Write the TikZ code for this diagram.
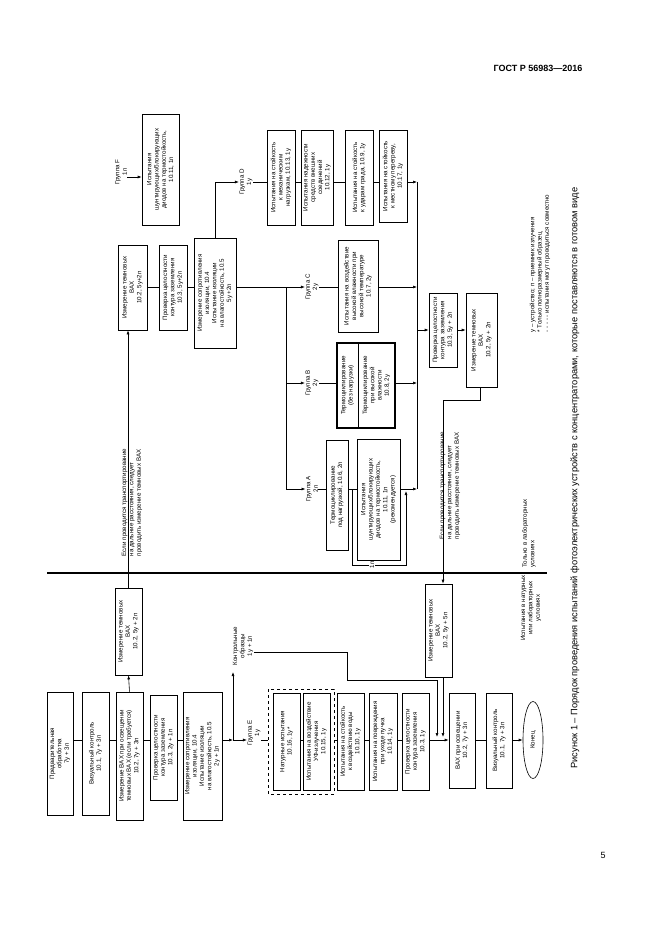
\documentclass[tikz,border=0pt]{standalone}
\usepackage{fontspec}
\setmainfont{Liberation Sans}
\usetikzlibrary{arrows.meta,shapes.geometric}
\begin{document}
\begin{tikzpicture}[x=1pt,y=-1pt,
  bx/.style={draw,rotate=90,align=center,inner sep=0.5pt,font=\fontsize{6.2}{7.3}\selectfont,line width=0.6pt},
  lb/.style={rotate=90,align=center,inner sep=0.5pt,font=\fontsize{6.2}{7.3}\selectfont},
  ln/.style={line width=0.6pt},
  ar/.style={line width=0.6pt,-{Latex[length=4pt,width=3pt]}}]
\useasboundingbox (0,0) rectangle (661,936);
\newcommand\bx[6]{\pgfmathsetmacro\bxw{#5-#3}\pgfmathsetmacro\bxh{#4-#2}\node[bx,minimum width=\bxw pt,minimum height=\bxh pt] (#1) at ({(#2+#4)/2},{(#3+#5)/2}) {#6};}
% header
\node[anchor=east,font=\bfseries\fontsize{9}{11}\selectfont] (hdr) at (586,68) {ГОСТ Р 56983—2016};
\node[font=\fontsize{9}{11}\selectfont] (pg) at (603,855) {5};
% divider
\draw[line width=1.3pt] (47,573) coordinate (dvA) -- (547,573) coordinate (dvB);
% column 1
\coordinate (y740) at (0,740);
\bx{p1}{47}{692}{73}{815}{Предварительная\\обработка\\7у + 3п}
\bx{p2}{82}{692}{109}{815}{Визуальный контроль\\10.1, 7у + 3п}
\bx{p3}{116}{692}{143}{820}{Измерение ВАХ при освещении\\темновых ВАХ (если требуется)\\10.2, 7у + 3п}
\bx{p4}{150}{695}{177}{800}{Проверка целостности\\контура заземления\\10.3, 2у + 1п}
\bx{p5}{183}{692}{222}{820}{Измерение сопротивления\\изоляции, 10.4\\Испытание изоляции\\на влагостойкость, 10.5\\2у + 1п}
\draw[ln] (p1.south|-y740) -- (p2.north|-y740);
\draw[ln] (p2.south|-y740) -- (p3.north|-y740);
\draw[ln] (p3.south|-y740) -- (p4.north|-y740);
\draw[ln] (p4.south|-y740) -- (p5.north|-y740);
\bx{dv1}{115}{588}{142}{675}{Измерение темновых\\ВАХ\\10.2, 5у + 2п}
\draw[ar] (p3.east) -- (dv1.west);
% lab column
\coordinate (y287) at (0,287);
\bx{l1}{118}{245}{147}{330}{Измерение темновых\\ВАХ\\10.2, 5у+2п}
\bx{l2}{159}{245}{187}{330}{Проверка целостности\\контура заземления\\10.3, 5у+2п}
\bx{l3}{194}{238}{236}{348}{Измерение сопротивления\\изоляции, 10.4\\Испытание изоляции\\на влагостойкость, 10.5\\5у +2п}
\draw[ar] (dv1.east -| 128,0) -- (l1.west -| 128,0);
\draw[ln] (l1.south|-y287) -- (l2.north|-y287);
\draw[ln] (l2.south|-y287) -- (l3.north|-y287);
\node[lb,anchor=west,align=left] (t1) at (132,557) {Если проводится транспортирование\\на дальние расстояния, следует\\проводить измерение темновых ВАХ};
% group F
\node[lb] (gF) at (121,172) {Группа F\\1п};
\bx{fb}{142}{114}{179}{225}{Испытания\\шунтирующих/блокирующих\\диодов на термостойкость,\\10.11, 1п}
\draw[ar] (gF.south|-0,177) -- (fb.north|-0,177);
% group D
\coordinate (y182) at (0,182);
\node[lb] (gD) at (246,182) {Группа D\\1у};
\bx{d1}{267}{130}{295}{225}{Испытания на стойкость\\к механическим\\нагрузкам, 10.13, 1у}
\bx{d2}{301}{130}{333}{225}{Испытания надежности\\средств внешних\\соединений\\10.12, 1у}
\bx{d3}{345}{130}{373}{225}{Испытания на стойкость\\к ударам града, 10.9, 1у}
\bx{d4}{379}{130}{407}{222}{Испытания на стойкость\\к местному перегреву,\\10.17, 1у}
\draw[ar] (l3.east -| 215,0) -- (215,182) -- (gD.north|-y182);
\draw[ln] (gD.south|-y182) -- (d1.north|-y182);
\draw[ln] (d1.south|-y182) -- (d2.north|-y182);
\draw[ln] (d2.south|-y182) -- (d3.north|-y182);
\draw[ln] (d3.south|-y182) -- (d4.north|-y182);
\coordinate (vT) at (417,182);
\coordinate (vB) at (417,489);
\draw[ln] (vT) -- (vB);
\draw[ar] (d4.south|-y182) -- (vT);
% group C
\node[lb] (gC) at (312,287) {Группа C\\2у};
\bx{cb}{338}{240}{378}{332}{Испытания на воздействие\\высокой влажности при\\высокой температуре\\10.7, 2у}
\draw[ar] (l3.south|-y287) -- (gC.north|-y287);
\draw[ln] (gC.south|-y287) -- (cb.north|-y287);
\draw[ar] (cb.south|-y287) -- (417,287);
% branch
\draw[ln] (286,287) -- (286,489);
% group B
\coordinate (y383) at (0,383);
\node[lb] (gB) at (312,383) {Группа B\\2у};
\bx{bb1}{337}{343}{358}{428}{Термоциклирование\\(без нагрузки)}
\bx{bb2}{358}{343}{395}{428}{Термоциклирование\\при высокой\\влажности\\10.8, 2у}
\draw[line width=1.1pt] (337,343) rectangle (395,428);
\draw[ar] (286,383) -- (gB.north|-y383);
\draw[ln] (gB.south|-y383) -- (bb1.north|-y383);
\draw[ar] (bb2.south|-y383) -- (417,383);
% group A
\coordinate (y489) at (0,489);
\node[lb] (gA) at (312,489) {Группа A\\2п};
\bx{a1}{326}{440}{348}{550}{Термоциклирование\\под нагрузкой, 10.6, 2п}
\bx{a2}{357}{439}{400}{560}{Испытания\\шунтирующих/блокирующих\\диодов на термостойкость,\\10.11, 1п\\(рекомендуется)}
\draw[ar] (286,489) -- (gA.north|-y489);
\draw[ln] (gA.south|-y489) -- (a1.north|-y489);
\draw[ln] (a1.south|-y489) -- (a2.north|-y489);
\draw[ar] (a2.south|-y489) -- (vB);
\draw[ar] (352,489) -- (352,565) -- (406,565) -- (406,491);
\node[lb,fill=white,inner sep=1pt] (n1p) at (372,565) {1п};
% right of lab
\coordinate (y330) at (0,330);
\bx{r1}{429}{293}{457}{367}{Проверка целостности\\контура заземления\\10.3, 5у + 2п}
\bx{r2}{466}{293}{497}{387}{Измерение темновых\\ВАХ\\10.2, 5у + 2п}
\draw[ar] (417,330) -- (r1.north|-y330);
\draw[ar] (r1.south|-y330) -- (r2.north|-y330);
\bx{e5n}{425}{584}{452}{677}{Измерение темновых\\ВАХ\\10.2, 5у + 5п}
\draw[ar] (r2.west -| 480,0) -- (480,400) -- (443,400) -- (e5n.east -| 443,0);
\node[lb,anchor=west,align=left] (t2) at (450,540) {Если проводится транспортирование\\на дальние расстояния, следует\\проводить измерение темновых ВАХ};
\node[lb,anchor=west,align=left] (t3) at (529,568) {Только в лабораторных\\условиях};
\node[lb] (t4) at (531,608) {Испытания в натурных\\или лабораторных\\условиях};
% group E
\coordinate (jE) at (233,740);
\draw[ar] (p5.south|-y740) -- (jE);
\node[lb] (cont) at (243,646) {Контрольные\\образцы\\1у + 1п};
\draw[ar] (jE) -- (233,672);
\node[lb] (gE) at (254,733) {Группа E\\1у};
\draw[ar] (jE) -- (gE.north|-y740);
\bx{e1}{273}{693}{300}{790}{Натурные испытания\\10.16, 1у*}
\bx{e2}{303}{693}{330}{790}{Испытания на воздействие\\УФ-излучения\\10.15, 1у}
\bx{e3}{337}{693}{364}{790}{Испытания на стойкость\\к воздействию воды\\10.10, 1у}
\bx{e4}{369}{693}{397}{790}{Испытания на повреждения\\при уходе пучка\\10.14, 1у}
\bx{e5}{402}{693}{429}{790}{Проверка целостности\\контура заземления\\10.3, 1у}
\draw[dashed,line width=0.6pt] (268,689) rectangle (334,794);
\draw[ln] (gE.south|-y740) -- (268,740);
\draw[ln] (334,740) -- (e3.north|-y740);
\draw[ln] (e1.south|-y740) -- (e2.north|-y740);
\draw[ln] (e3.south|-y740) -- (e4.north|-y740);
\draw[ln] (e4.south|-y740) -- (e5.north|-y740);
\coordinate (jF) at (440,740);
\draw[ln] (e5.south|-y740) -- (jF);
\draw[ar] (cont.south|-0,652) -- (347,652) -- (347,680) -- (437,680) -- (437,737);
\draw[ar] (e5n.west -| 443,0) -- (443,737);
\bx{f1}{449}{693}{475}{788}{ВАХ при освещении\\10.2, 7у + 3п}
\bx{f2}{486}{693}{512}{788}{Визуальный контроль\\10.1, 7у + 3п}
\node[draw,ellipse,rotate=90,minimum width=77pt,minimum height=20pt,inner sep=0pt,line width=0.6pt,font=\fontsize{6.2}{7.3}\selectfont] (end) at (533,740) {Конец};
\draw[ar] (jF) -- (f1.north|-y740);
\draw[ln] (f1.south|-y740) -- (f2.north|-y740);
\draw[ar] (f2.south|-y740) -- (end.north);
% legend and caption
\node[lb,anchor=west,align=left] (leg) at (540,333) {у – устройство; п – приемник излучения\\* Только полноразмерный образец\\- - - - - испытания могут проводиться совместно};
\node[rotate=90,font=\fontsize{9.3}{11}\selectfont,inner sep=0pt] (cap) at (575,478) {Рисунок 1 – Порядок проведения испытаний фотоэлектрических устройств с концентраторами, которые поставляются в готовом виде};
\end{tikzpicture}
\end{document}
